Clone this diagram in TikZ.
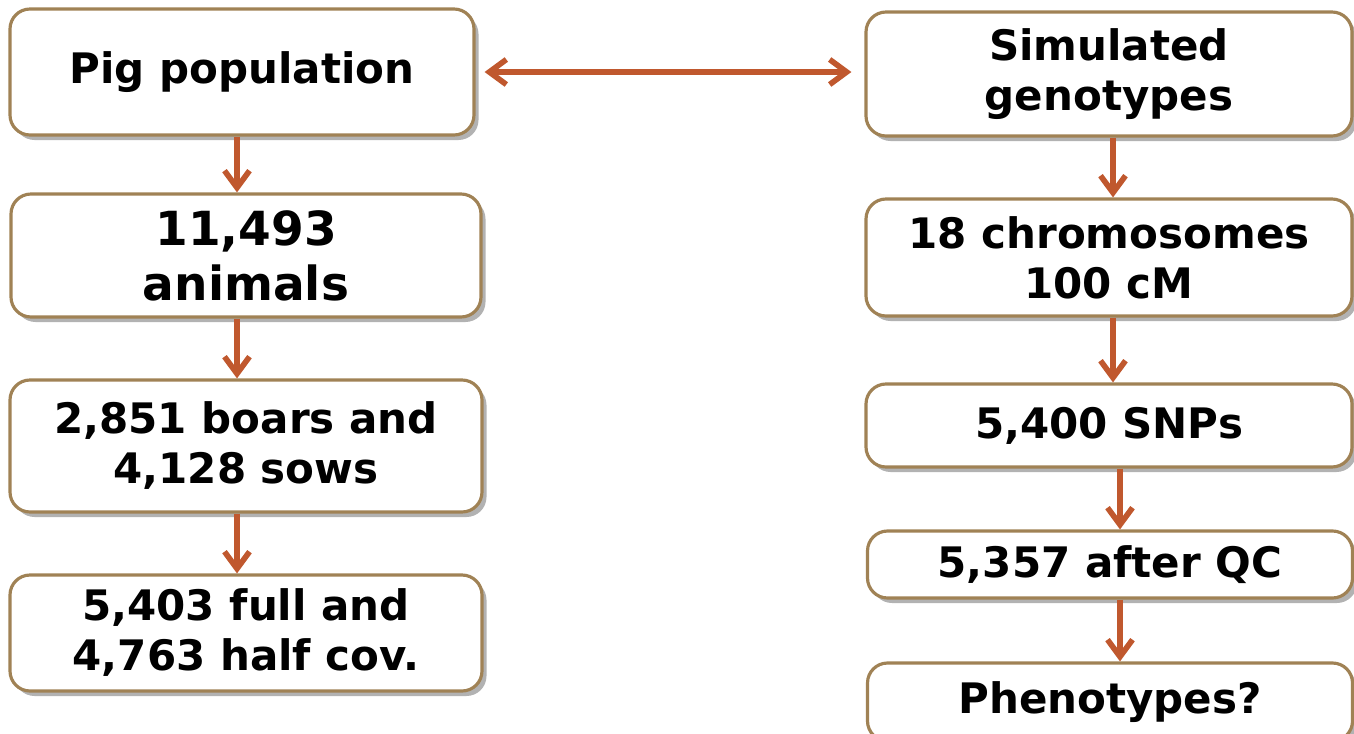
\documentclass[tikz,border=0pt]{standalone}
\usepackage{fontspec}
\setmainfont{DejaVu Sans}
\usetikzlibrary{positioning,arrows.meta,shadows}

\definecolor{rim}{RGB}{160,130,85}
\definecolor{rust}{RGB}{192,88,46}

\begin{document}
\begin{tikzpicture}[box/.style={draw=rim,line width=1.8pt,rounded corners=0.4cm,fill=white,
align=center,inner sep=0pt,font=\fontsize{23.9}{28.45}\selectfont\bfseries,
drop shadow={shadow xshift=0.09cm,shadow yshift=-0.1cm,fill=black,opacity=0.3}},
boxb/.style={box,font=\fontsize{26.75}{31.3}\selectfont\bfseries},
link/.style={draw=rust,line width=3.2pt,-{Straight Barb[length=0.34cm,width=0.5cm]}}]
\useasboundingbox (0,0) rectangle (27.08,-14.66);

% pig data
\node[box,minimum width=9.28cm,minimum height=2.52cm] (pop) at (4.84,-1.44) {Pig population};
\node[boxb,minimum width=9.40cm,minimum height=2.46cm] (anim) at (4.92,-5.11) {11,493\\animals};
\node[box,minimum width=9.44cm,minimum height=2.64cm] (boars) at (4.92,-8.92) {2,851 boars and\\4,128 sows};
\node[box,minimum width=9.44cm,minimum height=2.32cm] (cov) at (4.92,-12.66) {5,403 full and\\4,763 half cov.};

% simulation
\node[box,minimum width=9.72cm,minimum height=2.48cm] (sim) at (22.18,-1.48) {Simulated\\genotypes};
\node[box,minimum width=9.72cm,minimum height=2.34cm] (chrom) at (22.18,-5.15) {18 chromosomes\\100 cM};
\node[box,minimum width=9.72cm,minimum height=1.66cm] (snp) at (22.18,-8.51) {5,400 SNPs};
\node[box,minimum width=9.70cm,minimum height=1.34cm] (qc) at (22.20,-11.29) {5,357 after QC};
\node[box,minimum width=9.70cm,minimum height=1.56cm] (phen) at (22.20,-14.04) {Phenotypes?};

% link between the two
\draw[link,{Straight Barb[length=0.34cm,width=0.5cm]}-{Straight Barb[length=0.34cm,width=0.5cm]},
shorten <=0.18cm,shorten >=0.26cm] (pop.east) -- (pop.east -| sim.west);

% left column
\draw[link] ([xshift=-0.1cm]pop.south) -- ([xshift=-0.1cm]pop.south |- anim.north);
\draw[link] ([xshift=-0.18cm]anim.south) -- ([xshift=-0.18cm]anim.south |- boars.north);
\draw[link] ([xshift=-0.18cm]boars.south) -- ([xshift=-0.18cm]boars.south |- cov.north);

% right column
\draw[link] ([xshift=0.08cm]sim.south) -- ([xshift=0.08cm]sim.south |- chrom.north);
\draw[link] ([xshift=0.08cm]chrom.south) -- ([xshift=0.08cm]chrom.south |- snp.north);
\draw[link] ([xshift=0.22cm]snp.south) -- ([xshift=0.22cm]snp.south |- qc.north);
\draw[link] ([xshift=0.2cm]qc.south) -- ([xshift=0.2cm]qc.south |- phen.north);
\end{tikzpicture}
\end{document}
